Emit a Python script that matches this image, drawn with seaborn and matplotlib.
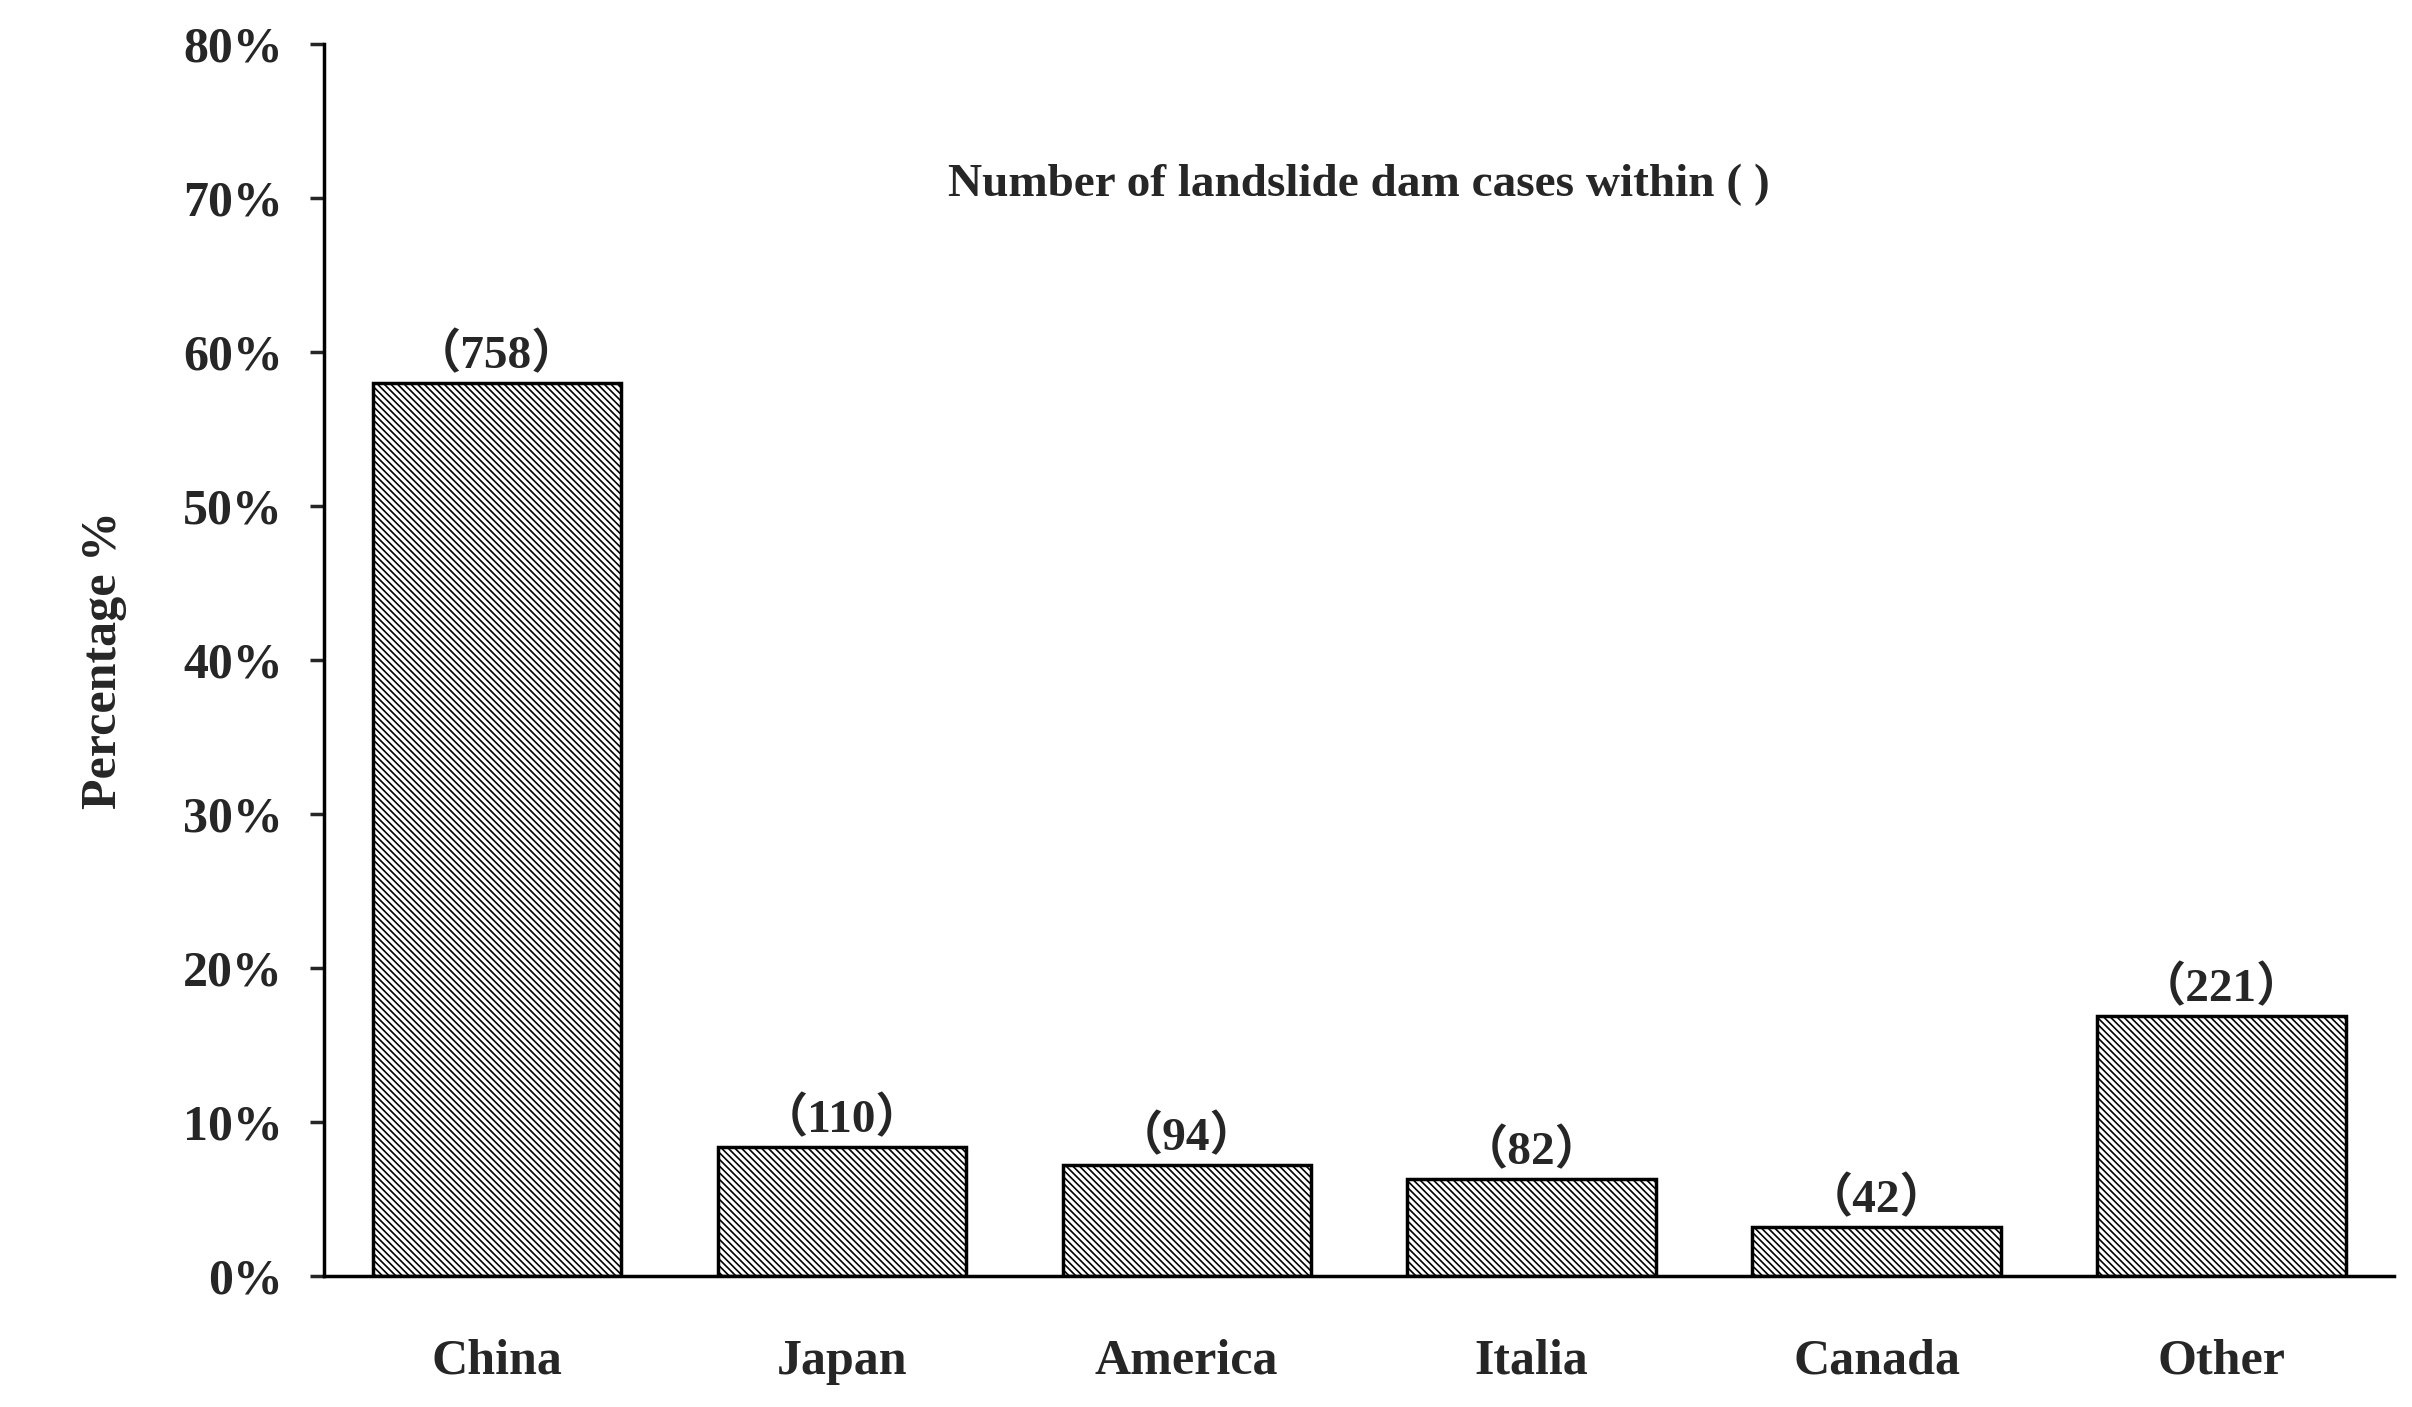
import matplotlib
matplotlib.use('Agg')
import matplotlib.pyplot as plt
import seaborn as sns
import pandas as pd
from matplotlib.ticker import PercentFormatter

countries = ['China', 'Japan', 'America', 'Italia', 'Canada', 'Other']
percent = [58.0, 8.4, 7.2, 6.3, 3.2, 16.9]
cases = [758, 110, 94, 82, 42, 221]

df = pd.DataFrame({'country': countries, 'percent': percent})

sns.set_style('white')
plt.rcParams['font.family'] = ['Liberation Serif', 'Noto Sans CJK SC']
plt.rcParams['font.weight'] = 'bold'
plt.rcParams['hatch.linewidth'] = 1.2

fig = plt.figure(figsize=(24.12, 14.07), dpi=100)
ax = fig.add_axes([0.1345, 0.093, 0.858, 0.876])
sns.barplot(data=df, x='country', y='percent', color='white', edgecolor='black',
            linewidth=2.5, width=0.72, hatch='\\\\\\\\\\', ax=ax)

for i, (p, n) in enumerate(zip(percent, cases)):
    ax.text(i, p + 0.3, f'（{n}）', ha='center', va='bottom', fontsize=34, fontweight='bold')

ax.text(0.5, 0.885, 'Number of landslide dam cases within ( )', transform=ax.transAxes,
        ha='center', va='center', fontsize=34, fontweight='bold')

ax.set_ylim(0, 80)
ax.set_yticks(range(0, 81, 10))
ax.yaxis.set_major_formatter(PercentFormatter(decimals=0))
ax.set_xlim(-0.5, 5.5)
ax.set_xlabel('')
ax.set_ylabel('Percentage %', fontsize=36, fontweight='bold', labelpad=40)
ax.tick_params(axis='y', labelsize=36, direction='out', length=10, width=2.5, left=True, pad=20)
ax.tick_params(axis='x', labelsize=36, length=0, pad=45)
for lab in ax.get_xticklabels() + ax.get_yticklabels():
    lab.set_fontweight('bold')
sns.despine(ax=ax)
for s in ['left', 'bottom']:
    ax.spines[s].set_linewidth(2.5)
    ax.spines[s].set_color('black')

fig.savefig('out.png', dpi=100)
